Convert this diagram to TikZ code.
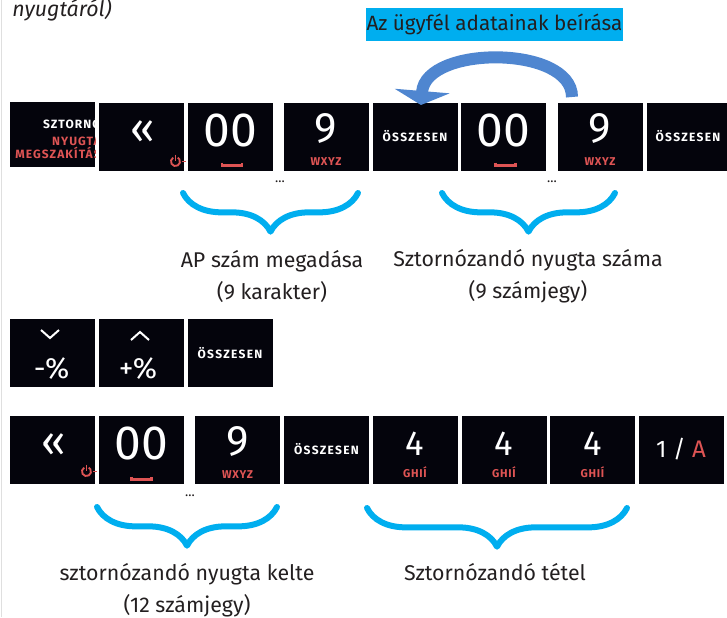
\documentclass[tikz,border=0pt]{standalone}
\usepackage{fontspec}
\setmainfont{Fira Sans}
\usetikzlibrary{arrows.meta,decorations.pathreplacing}
\definecolor{keyred}{RGB}{222,84,84}
\definecolor{bracecyan}{RGB}{0,174,239}
\definecolor{arrowblue}{RGB}{79,134,208}
\definecolor{inkgray}{RGB}{35,31,32}
\definecolor{keyblack}{RGB}{4,4,12}

\begin{document}
\begin{tikzpicture}[x=0.75pt,y=-0.75pt,
        btn/.style={fill=keyblack,minimum width=63.75pt,minimum height=51pt,inner sep=0pt},
        digit/.style={font=\fontsize{#1}{#1}\selectfont,text=white,inner sep=0pt},
        redlabel/.style={font=\fontsize{8.5}{8.5}\selectfont\bfseries\addfontfeature{LetterSpace=6},
            text=keyred,inner sep=0pt},
        sumlabel/.style={font=\fontsize{9}{9}\selectfont\bfseries\addfontfeature{LetterSpace=11},
            text=white,inner sep=0pt},
        capsline/.style={font=\fontsize{9}{9}\selectfont\bfseries\addfontfeature{LetterSpace=9},
            inner sep=0pt,anchor=east},
        curly/.style={draw=bracecyan,line width=4.5pt,line cap=round,line join=round,
            decorate,decoration={brace,mirror,amplitude=29pt}},
        note/.style={text=inkgray,font=\fontsize{16}{24}\selectfont,align=center,inner sep=0pt},
        dots/.style={text=inkgray,font=\fontsize{10}{10}\selectfont,inner sep=0pt,anchor=base},
        icon/.style={draw=keyred,line width=1.4pt},
        spacemark/.style={draw=keyred,line width=2.2pt}]
    \useasboundingbox (0,0) rectangle (727,617);
    \draw[gray!25,line width=0.75pt] (1,0) -- (1,617);

    % Heading
    \node[anchor=base west,inner sep=0pt,text=inkgray,font=\fontsize{16}{16}\selectfont\itshape]
        (prevnote) at (12,17) {nyugtáról)};
    \node[fill=bracecyan,text=inkgray,font=\fontsize{15.5}{15.5}\selectfont,
        minimum width=193pt,minimum height=24.75pt,inner sep=0pt]
        (clientnote) at (494.5,24.5) {Az ügyfél adatainak beírása};

    % Row 1
    \node[btn,minimum height=48.75pt] (sztorno) at (52.5,134.5) {};
    \node[btn] (back1) at (141.5,136.5) {};
    \node[btn] (zero1) at (230,136.5) {};
    \node[btn] (nine1) at (326,136.5) {};
    \node[btn] (sum1) at (415,136.5) {};
    \node[btn] (zero2) at (503.5,136.5) {};
    \node[btn] (nine2) at (600,136.5) {};
    \node[btn,minimum width=61.5pt] (sum2) at (688,136.5) {};

    \begin{scope}
        \clip (sztorno.north west) rectangle (sztorno.south east);
        \node[capsline,text=white] (sztornotxt) at (101,123) {SZTORNÓ};
        \node[capsline,text=keyred] (nyugtatxt) at (101,141) {NYUGTA};
        \node[capsline,text=keyred] (megszaktxt) at (101,153) {MEGSZAKÍTÁS};
    \end{scope}
    \node[digit=32] (back1d) at ([xshift=1pt,yshift=3pt]back1.center) {«};
    \node[digit=36] (zero1d) at ([yshift=4.5pt]zero1.center) {00};
    \node[digit=32] (nine1d) at ([yshift=6pt]nine1.center) {9};
    \node[redlabel] (nine1t) at ([yshift=-19pt]nine1.center) {WXYZ};
    \node[sumlabel] (sum1t) at (sum1.center) {ÖSSZESEN};
    \node[digit=36] (zero2d) at ([yshift=4.5pt]zero2.center) {00};
    \node[digit=32] (nine2d) at ([yshift=6pt]nine2.center) {9};
    \node[redlabel] (nine2t) at ([yshift=-19pt]nine2.center) {WXYZ};
    \node[sumlabel] (sum2t) at (sum2.center) {ÖSSZESEN};

    \coordinate (pw1) at ([shift={(34,25)}]back1.center);
    \draw[icon] (pw1) ++(-2.3,-3.9) arc[start angle=120,end angle=420,radius=3.4pt];
    \draw[icon] (pw1) ++(0,-7) -- ++(0,6);
    \draw[icon] (pw1) ++(6,0) -- ++(4,0);
    \coordinate (sp1) at ([shift={(2,29)}]zero1.center);
    \draw[spacemark] (sp1) ++(-10,-3) -- ++(0,3) -- ++(20,0) -- ++(0,-3);
    \coordinate (sp2) at ([shift={(2,29)}]zero2.center);
    \draw[spacemark] (sp2) ++(-10,-3) -- ++(0,3) -- ++(20,0) -- ++(0,-3);

    \node[dots] (dots1) at (280,182) {...};
    \node[dots] (dots2) at (552,182) {...};

    % Arrow back to ÖSSZESEN
    \coordinate (arrowstart) at (572,97);
    \coordinate (arrowend) at (421,105);
    \draw[arrowblue,line width=9pt,-{Triangle[length=10.5pt,width=41pt]}]
        (arrowstart) .. controls (572,45) and (426,45) .. (arrowend);

    % Braces under row 1
    \coordinate (b1l) at (183,193);
    \coordinate (b1r) at (358,193);
    \coordinate (b2l) at (442,193);
    \coordinate (b2r) at (615,193);
    \draw[curly] (b1l) -- (b1r);
    \draw[curly] (b2l) -- (b2r);
    \node[note] (apnote) at (272,276) {AP szám megadása\\(9 karakter)};
    \node[note] (nyugtanote) at (528,276) {Sztornózandó nyugta száma\\(9 számjegy)};

    % Row 2
    \node[btn] (minus) at (52.5,353) {};
    \node[btn] (plus) at (141.5,353) {};
    \node[btn] (sum3) at (230,353) {};
    \draw[white,line width=1.5pt] ([shift={(-2.5,-19)}]minus.center) ++(-9,-4) -- ++(9,8) -- ++(9,-8);
    \draw[white,line width=1.5pt] ([shift={(-1.5,-17)}]plus.center) ++(-9,4) -- ++(9,-8) -- ++(9,8);
    \node[digit=22] (minust) at ([shift={(-1,16)}]minus.center) {-\%};
    \node[digit=22] (plust) at ([shift={(-3.5,16)}]plus.center) {+\%};
    \node[sumlabel] (sum3t) at (sum3.center) {ÖSSZESEN};

    % Row 3
    \node[btn] (back2) at (52.5,449.5) {};
    \node[btn] (zero3) at (141.5,449.5) {};
    \node[btn] (nine3) at (237.5,449.5) {};
    \node[btn] (sum4) at (326.5,449.5) {};
    \node[btn] (four1) at (415,449.5) {};
    \node[btn] (four2) at (504,449.5) {};
    \node[btn] (four3) at (592.5,449.5) {};
    \node[btn] (onea) at (681,449.5) {};

    \node[digit=32] (back2d) at ([xshift=1pt,yshift=3pt]back2.center) {«};
    \node[digit=36] (zero3d) at ([yshift=4.5pt]zero3.center) {00};
    \node[digit=32] (nine3d) at ([yshift=6pt]nine3.center) {9};
    \node[redlabel] (nine3t) at ([yshift=-19pt]nine3.center) {WXYZ};
    \node[sumlabel] (sum4t) at (sum4.center) {ÖSSZESEN};
    \node[digit=26] (four1d) at ([yshift=4pt]four1.center) {4};
    \node[redlabel] (four1t) at ([yshift=-17pt]four1.center) {GHIÍ};
    \node[digit=26] (four2d) at ([yshift=4pt]four2.center) {4};
    \node[redlabel] (four2t) at ([yshift=-17pt]four2.center) {GHIÍ};
    \node[digit=26] (four3d) at ([yshift=4pt]four3.center) {4};
    \node[redlabel] (four3t) at ([yshift=-17pt]four3.center) {GHIÍ};
    \node[digit=18] (oneat) at (onea.center) {1\hspace{5pt}/\hspace{5pt}\textcolor{keyred}{A}};

    \coordinate (pw2) at ([shift={(34,22)}]back2.center);
    \draw[icon] (pw2) ++(-2.3,-3.9) arc[start angle=120,end angle=420,radius=3.4pt];
    \draw[icon] (pw2) ++(0,-7) -- ++(0,6);
    \draw[icon] (pw2) ++(6,0) -- ++(4,0);
    \coordinate (sp3) at ([shift={(0,30)}]zero3.center);
    \draw[spacemark] (sp3) ++(-10,-3) -- ++(0,3) -- ++(20,0) -- ++(0,-3);

    \node[dots] (dots3) at (190,496) {...};

    % Braces under row 3
    \coordinate (b3l) at (97,507);
    \coordinate (b3r) at (277,507);
    \coordinate (b4l) at (367,508);
    \coordinate (b4r) at (627,508);
    \draw[curly] (b3l) -- (b3r);
    \draw[curly] (b4l) -- (b4r);
    \node[note] (keltenote) at (187,590) {sztornózandó nyugta kelte\\(12 számjegy)};
    \node[note] (tetelnote) at (495,572) {Sztornózandó tétel};
\end{tikzpicture}
\end{document}
